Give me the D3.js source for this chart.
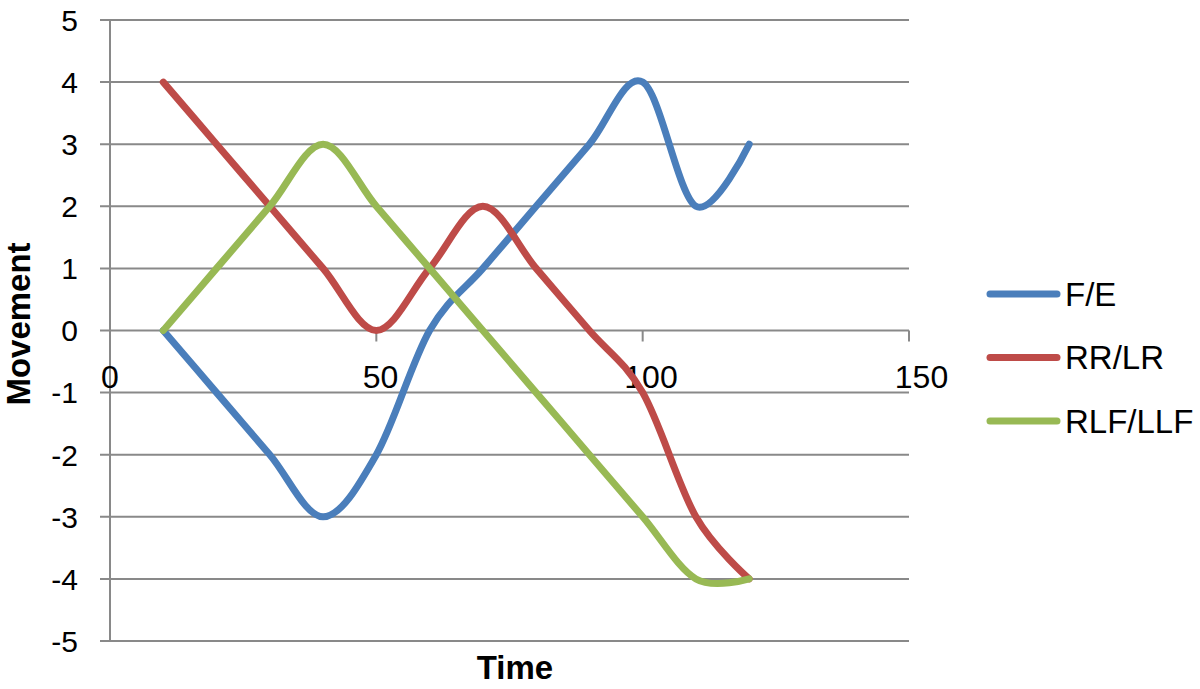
<!DOCTYPE html>
<html>
<head>
<meta charset="utf-8">
<script src="https://cdn.jsdelivr.net/npm/d3@7"></script>
<style>
  body { margin: 0; background: #fff; }
  text { font-family: "Liberation Sans", Arial, sans-serif; }
</style>
</head>
<body>
<svg width="1200" height="689"></svg>
<script>
// values
var times = [10, 20, 30, 40, 50, 60, 70, 80, 90, 100, 110, 120];
var fe    = [0, -1, -2, -3, -2, 0, 1, 2, 3, 4, 2, 3];
var rrlr  = [4, 3, 2, 1, 0, 1, 2, 1, 0, -1, -3, -4];
var rlf   = [0, 1, 2, 3, 2, 1, 0, -1, -2, -3, -4, -4];
var seriesNames = ["F/E", "RR/LR", "RLF/LLF"];
var colors = ["#4A7EBB", "#BE4B48", "#98B954"];
var xTicks = [0, 50, 100, 150];
var yTicks = [-5, -4, -3, -2, -1, 0, 1, 2, 3, 4, 5];

var svg = d3.select("svg");
var MARGIN = {top: 20, left: 110};
var W = 909 - 110, H = 641 - 20;

var x = d3.scaleLinear().domain([0, 150]).range([0, W]);
var y = d3.scaleLinear().domain([-5, 5]).range([H, 0]);

var g = svg.append("g")
    .attr("transform", "translate(" + MARGIN.left + "," + MARGIN.top + ")");

// horizontal gridlines (with small tick stubs on the left)
g.append("g")
    .selectAll("line")
    .data(yTicks)
    .join("line")
    .attr("x1", -10).attr("x2", W)
    .attr("y1", d => y(d)).attr("y2", d => y(d))
    .attr("stroke", "#898989").attr("stroke-width", 2);

// y axis labels
g.append("g")
    .selectAll("text")
    .data(yTicks)
    .join("text")
    .attr("x", -32)
    .attr("y", d => y(d))
    .attr("dy", "0.36em")
    .attr("text-anchor", "end")
    .attr("font-size", 30)
    .text(d => d);

// vertical axis line
g.append("line")
    .attr("x1", 0).attr("x2", 0)
    .attr("y1", 0).attr("y2", H)
    .attr("stroke", "#898989").attr("stroke-width", 2);

// x axis crossing at zero
var xAxis = g.append("g")
    .attr("transform", "translate(0," + y(0) + ")");
xAxis.selectAll("line")
    .data(xTicks)
    .join("line")
    .attr("x1", d => x(d)).attr("x2", d => x(d))
    .attr("y1", 0).attr("y2", 11)
    .attr("stroke", "#898989").attr("stroke-width", 2);
xAxis.selectAll("text")
    .data(xTicks)
    .join("text")
    .attr("x", d => x(d) + d / 12)
    .attr("y", 57)
    .attr("text-anchor", "middle")
    .attr("font-size", 32)
    .text(d => d);

// series lines
var data = [fe, rrlr, rlf].map(function(vals) {
    return vals.map((v, i) => ({t: times[i], v: v}));
});

var line = d3.line()
    .curve(d3.curveCardinal.tension(0))
    .x(d => x(d.t))
    .y(d => y(d.v));

g.selectAll("path.series")
    .data(data)
    .join("path")
    .attr("class", "series")
    .attr("d", line)
    .attr("fill", "none")
    .attr("stroke", (d, i) => colors[i])
    .attr("stroke-width", 7)
    .attr("stroke-linecap", "round")
    .attr("stroke-linejoin", "round");

// axis titles
svg.append("text")
    .attr("transform", "translate(30,324) rotate(-90)")
    .attr("text-anchor", "middle")
    .attr("font-size", 33)
    .attr("font-weight", "bold")
    .text("Movement");

svg.append("text")
    .attr("x", 515)
    .attr("y", 679)
    .attr("text-anchor", "middle")
    .attr("font-size", 33)
    .attr("font-weight", "bold")
    .text("Time");

// legend
var legend = svg.append("g")
    .selectAll("g")
    .data(seriesNames)
    .join("g")
    .attr("transform", (d, i) => "translate(0," + (294 + i * 63.5) + ")");
legend.append("line")
    .attr("x1", 990).attr("x2", 1057)
    .attr("y1", 0).attr("y2", 0)
    .attr("stroke", (d, i) => colors[i])
    .attr("stroke-width", 7)
    .attr("stroke-linecap", "round");
legend.append("text")
    .attr("x", 1065)
    .attr("y", 0)
    .attr("dy", "0.36em")
    .attr("font-size", 33)
    .text(d => d);
</script>
</body>
</html>
